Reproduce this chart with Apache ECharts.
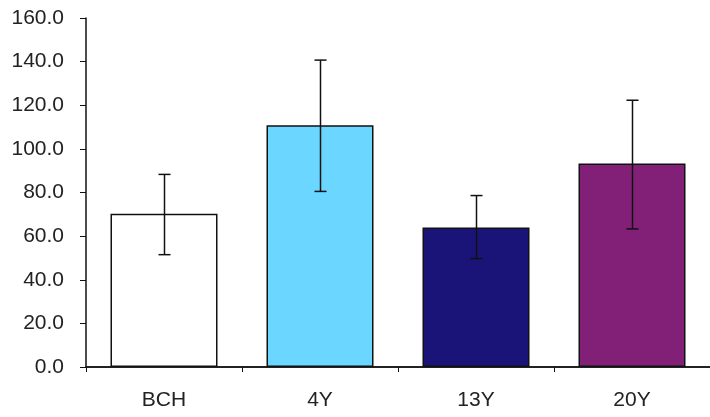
<!DOCTYPE html>
<html><head><meta charset="utf-8">
<script src="https://cdn.jsdelivr.net/npm/echarts@6/dist/echarts.min.js"></script>
<style>html,body{margin:0;padding:0;background:#fff}#c{width:710px;height:417px}</style>
</head><body><div id="c"></div>
<script>
var categories = ['BCH', '4Y', '13Y', '20Y'];
var means = [70.3, 110.8, 64.0, 93.3];
var errLow = [51.5, 80.5, 49.7, 63.3];
var errHigh = [88.3, 140.7, 78.6, 122.3];
var barColors = ['#ffffff', '#6bd6ff', '#1a1478', '#822078'];
var yTicks = [0, 20, 40, 60, 80, 100, 120, 140, 160];

var chart = echarts.init(document.getElementById('c'));
var font = 'Liberation Sans, Arial, sans-serif';
chart.setOption({
  animation: false,
  backgroundColor: '#fff',
  grid: {left: 86, top: 18, bottom: 50, width: 636, containLabel: false},
  xAxis: {
    type: 'category', data: categories,
    axisLine: {lineStyle: {color: '#222', width: 2}},
    axisTick: {show: true, length: 5, lineStyle: {color: '#111'}},
    axisLabel: {color: '#222', fontSize: 21, fontFamily: font, margin: 23}
  },
  yAxis: {
    type: 'value', min: yTicks[0], max: yTicks[yTicks.length-1], interval: 20,
    axisLine: {show: true, lineStyle: {color: '#111', width: 1.5}},
    axisTick: {show: true, inside: false, length: 6, lineStyle: {color: '#111'}},
    splitLine: {show: false},
    axisLabel: {color: '#222', fontSize: 21, fontFamily: font, margin: 22,
      formatter: function (v) { return v.toFixed(1); }}
  },
  series: [{
    type: 'bar', barWidth: 107,
    data: means.map(function (v, i) {
      return {value: v, itemStyle: {color: barColors[i], borderColor: '#111', borderWidth: 1.5}};
    })
  }, {
    type: 'custom',
    data: categories.map(function (c, i) { return [i, errLow[i], errHigh[i]]; }),
    renderItem: function (params, api) {
      var lo = api.coord([api.value(0), api.value(1)]);
      var hi = api.coord([api.value(0), api.value(2)]);
      var x = Math.round(lo[0]) + 0.5, hw = 6;
      var st = {stroke: '#111', lineWidth: 1.5};
      return {type: 'group', children: [
        {type: 'line', shape: {x1: x, y1: lo[1], x2: x, y2: hi[1]}, style: st},
        {type: 'line', shape: {x1: x - hw, y1: lo[1], x2: x + hw, y2: lo[1]}, style: st},
        {type: 'line', shape: {x1: x - hw, y1: hi[1], x2: x + hw, y2: hi[1]}, style: st}
      ]};
    },
    z: 10
  }]
});
</script></body></html>
